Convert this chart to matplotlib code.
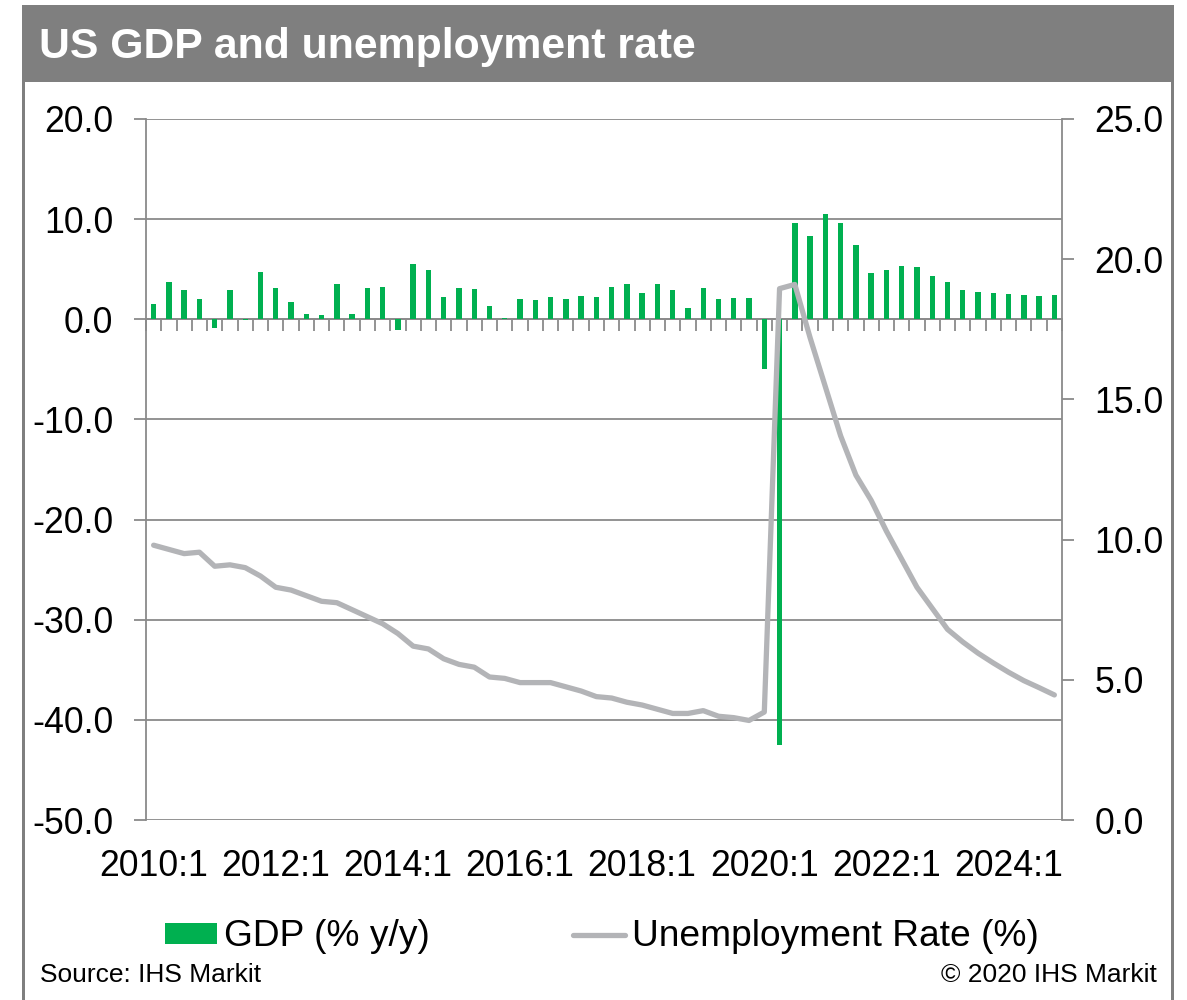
import matplotlib
matplotlib.use('Agg')
import matplotlib.pyplot as plt
from matplotlib.patches import Rectangle, Patch
from matplotlib.lines import Line2D

plt.rcParams['font.family'] = ['Liberation Sans', 'DejaVu Sans']

# ---------------- data ----------------
quarters = [f"{y}:{q}" for y in range(2010, 2025) for q in range(1, 5)]
gdp = [1.5, 3.7, 2.9, 2.0, -0.9, 2.9, -0.1, 4.7, 3.1, 1.7,
       0.5, 0.4, 3.5, 0.5, 3.1, 3.2, -1.1, 5.5, 4.9, 2.2,
       3.1, 3.0, 1.3, 0.1, 2.0, 1.9, 2.2, 2.0, 2.3, 2.2,
       3.2, 3.5, 2.6, 3.5, 2.9, 1.1, 3.1, 2.0, 2.1, 2.1,
       -5.0, -42.5, 9.6, 8.3, 10.5, 9.6, 7.4, 4.6, 4.9, 5.3,
       5.2, 4.3, 3.7, 2.9, 2.7, 2.6, 2.5, 2.4, 2.3, 2.4]
unemp = [9.8, 9.65, 9.5, 9.55, 9.05, 9.1, 9.0, 8.7, 8.3, 8.2,
         8.0, 7.8, 7.75, 7.5, 7.25, 7.0, 6.65, 6.2, 6.1, 5.75,
         5.55, 5.45, 5.1, 5.05, 4.9, 4.9, 4.9, 4.75, 4.6, 4.4,
         4.35, 4.2, 4.1, 3.95, 3.8, 3.8, 3.9, 3.7, 3.65, 3.55,
         3.85, 18.95, 19.1, 17.2, 15.45, 13.7, 12.3, 11.4, 10.3, 9.3,
         8.3, 7.55, 6.8, 6.35, 5.95, 5.6, 5.27, 4.97, 4.72, 4.46]
tick_labels = ["2010:1", "2012:1", "2014:1", "2016:1",
               "2018:1", "2020:1", "2022:1", "2024:1"]
left_ticks = [-50, -40, -30, -20, -10, 0, 10, 20]
right_ticks = [0, 5, 10, 15, 20, 25]

title = "US GDP and unemployment rate"
gdp_label = "GDP (% y/y)"
unemp_label = "Unemployment Rate (%)"
source = "Source: IHS Markit"
copyright_txt = "\u00a9 2020 IHS Markit"

# ---------------- styles ----------------
W, H = 1187, 1000
GREEN = '#00b050'
LINEGRAY = '#b3b4b7'
AXGRAY = '#8a8a8a'
HEADER = '#7f7f7f'
TICKFS = 25.7

fig = plt.figure(figsize=(W / 100, H / 100), dpi=100)
fig.patch.set_facecolor('white')

def fx(px):
    return px / W

def fy(py):
    return 1 - py / H

# header band and frame
fig.add_artist(Rectangle((fx(22), fy(82)), fx(1174) - fx(22), fy(5) - fy(82),
                         transform=fig.transFigure, facecolor=HEADER,
                         edgecolor='none', zorder=0))
fig.add_artist(Rectangle((fx(22), 0), fx(3), fy(5),
                         transform=fig.transFigure, facecolor=HEADER,
                         edgecolor='none', zorder=0))
fig.add_artist(Rectangle((fx(1171), 0), fx(3), fy(5),
                         transform=fig.transFigure, facecolor=HEADER,
                         edgecolor='none', zorder=0))
fig.text(fx(39), fy(47), title, color='white', fontsize=30.8, fontweight='bold',
         ha='left', va='center')

# axes
ax = fig.add_axes([fx(146), fy(820), fx(1062) - fx(146), fy(119) - fy(820)])
ax2 = ax.twinx()

x = list(range(len(quarters)))
ax.bar(x, gdp, width=0.35, color=GREEN, zorder=3)
ax2.plot(x, unemp, color=LINEGRAY, lw=3.8, solid_joinstyle='round',
         solid_capstyle='round', zorder=4)

ax.set_xlim(-0.5, len(quarters) - 0.5)
ax.set_ylim(-50, 20)
ax2.set_ylim(0, 25)

ax.set_yticks(left_ticks)
ax.set_yticklabels([f"{v:.1f}" for v in left_ticks])
ax2.set_yticks(right_ticks)
ax2.set_yticklabels([f"{v:.1f}" for v in right_ticks])

ax.yaxis.grid(True, color=AXGRAY, lw=1.3, zorder=1)
ax.set_axisbelow(True)

for a in (ax, ax2):
    for s in a.spines.values():
        s.set_visible(False)
ax.spines['left'].set_visible(True)
ax.spines['left'].set_color(AXGRAY)
ax.spines['left'].set_linewidth(1.3)
ax2.spines['right'].set_visible(True)
ax2.spines['right'].set_color(AXGRAY)
ax2.spines['right'].set_linewidth(1.3)

# category axis at zero with boundary ticks
ax.spines['bottom'].set_visible(True)
ax.spines['bottom'].set_position(('data', 0))
ax.spines['bottom'].set_color(AXGRAY)
ax.spines['bottom'].set_linewidth(1.3)
ax.set_xticks([i - 0.5 for i in range(len(quarters) + 1)])
ax.set_xticklabels([])
ax.tick_params(axis='x', direction='out', length=8.5, width=1.3, color=AXGRAY)

ax.tick_params(axis='y', direction='out', length=8.5, width=1.3, color=AXGRAY,
               labelsize=TICKFS, pad=15, labelcolor='black')
ax2.tick_params(axis='y', direction='out', length=8.5, width=1.3, color=AXGRAY,
                labelsize=TICKFS, pad=15, labelcolor='black')

# date labels along the bottom of the plot area
sec = ax.secondary_xaxis('bottom')
sec.spines['bottom'].set_visible(False)
sec.set_xticks(list(range(0, len(quarters), 8)))
sec.set_xticklabels(tick_labels)
sec.tick_params(axis='x', length=0, labelsize=TICKFS, pad=21)

# legend
handles = [Patch(facecolor=GREEN, edgecolor='none'),
           Line2D([0], [0], color=LINEGRAY, lw=3.8, solid_capstyle='round')]
fig.legend(handles, [gdp_label, unemp_label], ncol=2, frameon=False,
           loc='center', bbox_to_anchor=(fx(602), fy(937)),
           fontsize=26.7, handlelength=1.4, handleheight=0.5,
           handletextpad=0.2, columnspacing=3.85, borderpad=0, borderaxespad=0)

fig.text(fx(40), fy(975), source, fontsize=19, ha='left', va='center')
fig.text(fx(1157), fy(975), copyright_txt, fontsize=19, ha='right', va='center')

fig.savefig('out.png', dpi=100, facecolor='white')
